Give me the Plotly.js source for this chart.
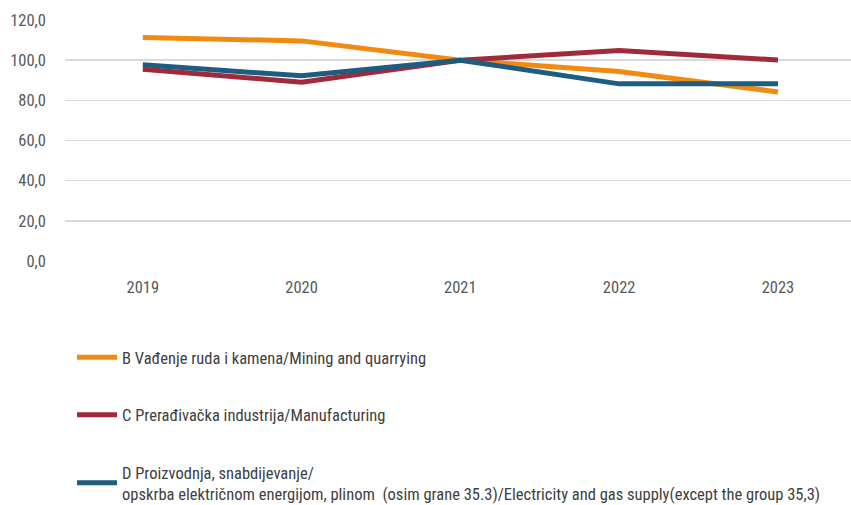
<!DOCTYPE html>
<html>
<head>
<meta charset="utf-8">
<script src="https://cdn.plot.ly/plotly-3.0.1.min.js"></script>
<style>html,body{margin:0;padding:0;background:#fff;}#chart{width:851px;height:505px;}</style>
</head>
<body>
<div id="chart"></div>
<script>
const years = ["2019", "2020", "2021", "2022", "2023"];
const mining = [111.3, 109.6, 100.0, 94.3, 84.2];
const manufacturing = [95.5, 89.0, 100.0, 104.8, 100.1];
const electricity = [97.7, 92.2, 100.0, 88.2, 88.2];
const seriesNames = [
  "B Vađenje ruda i kamena/Mining and quarrying",
  "C Prerađivačka industrija/Manufacturing",
  "D Proizvodnja, snabdijevanje/<br>opskrba električnom energijom, plinom  (osim grane 35.3)/Electricity and gas supply(except the group 35,3)"
];
const colors = ["#F28A0F", "#A02A3B", "#1E5C80"];
const yTicks = [0, 20, 40, 60, 80, 100, 120];
const yTickText = ["0,0", "20,0", "40,0", "60,0", "80,0", "100,0", "120,0"];

const FONT = '"Liberation Sans Narrow", "Arial Narrow", "Roboto Condensed", Arial, sans-serif';
const xIdx = years.map((_, i) => i);

const dataSets = [mining, manufacturing, electricity];
const traces = dataSets.map((vals, i) => ({
  x: xIdx,
  y: vals,
  type: "scatter",
  mode: "lines",
  name: seriesNames[i],
  legendgroup: "g" + i,
  line: { color: colors[i], width: 5, shape: "linear" },
  hoverinfo: "skip"
}));

const layout = {
  width: 851,
  height: 505,
  margin: { l: 65, r: 0, t: 20, b: 244, autoexpand: false },
  paper_bgcolor: "#ffffff",
  plot_bgcolor: "#ffffff",
  font: { family: FONT, color: "#595959", size: 16 },
  showlegend: true,
  xaxis: {
    range: [-0.49, 4.46],
    tickvals: xIdx,
    ticktext: years,
    tickangle: 0,
    showgrid: false,
    zeroline: false,
    showline: false,
    ticks: "",
    tickfont: { family: FONT, size: 16.5, color: "#595959" },
    ticklabelstandoff: 14,
    fixedrange: true
  },
  yaxis: {
    range: [0, 120],
    tickvals: yTicks,
    ticktext: yTickText,
    showgrid: true,
    gridcolor: "#D9D9D9",
    gridwidth: 1.5,
    zeroline: false,
    showline: false,
    ticks: "",
    tickfont: { family: FONT, size: 16.5, color: "#595959" },
    ticklabelstandoff: 18,
    fixedrange: true
  },
  legend: {
    orientation: "v",
    xref: "container",
    yref: "container",
    x: 72 / 851,
    xanchor: "left",
    y: 1 - 340 / 505,
    yanchor: "top",
    tracegroupgap: 33,
    font: { family: FONT, size: 16.5, color: "#404040" },
    bgcolor: "rgba(0,0,0,0)",
    itemwidth: 40
  }
};

Plotly.newPlot("chart", traces, layout, { displayModeBar: false, staticPlot: true });
</script>
</body>
</html>
